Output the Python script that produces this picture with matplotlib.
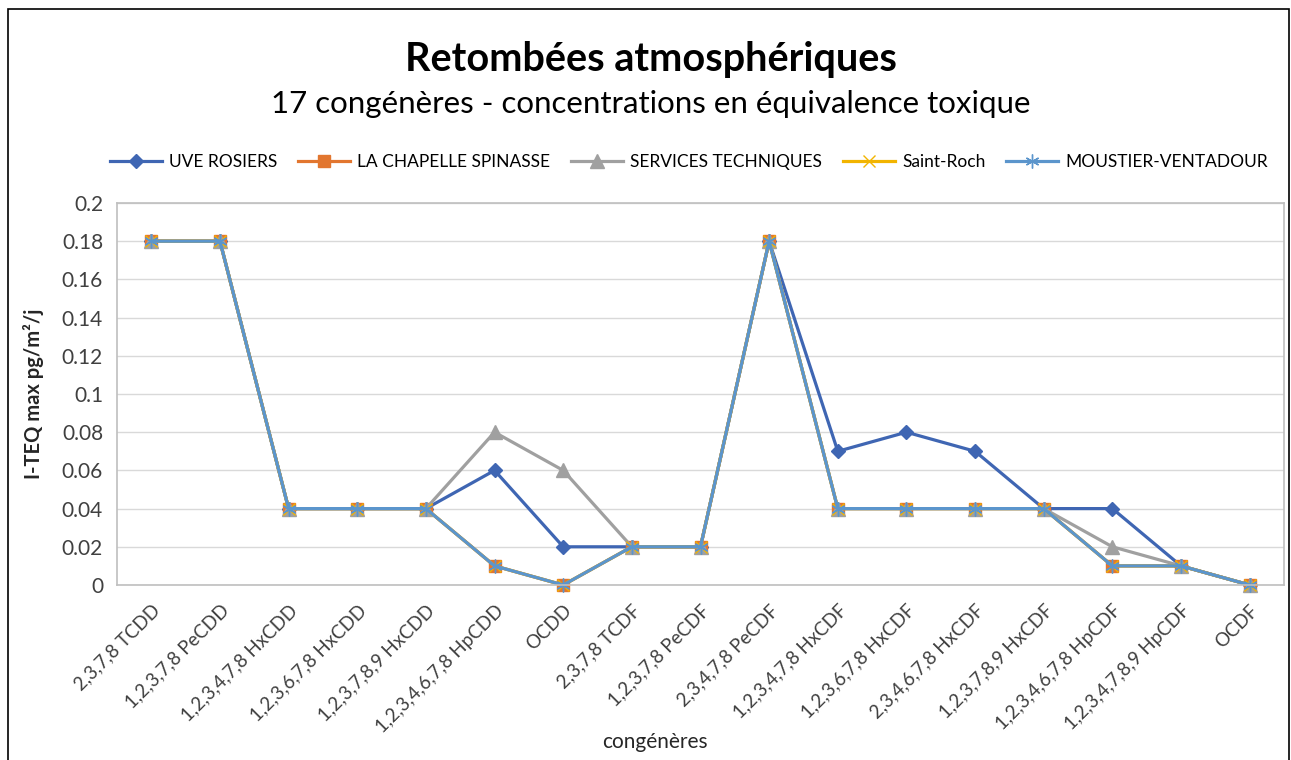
import matplotlib
matplotlib.use("Agg")
import matplotlib.pyplot as plt
from matplotlib.patches import Rectangle
from matplotlib.ticker import FuncFormatter

plt.rcParams['font.family'] = ['Lato', 'DejaVu Sans']

congeneres = ["2,3,7,8 TCDD", "1,2,3,7,8 PeCDD", "1,2,3,4,7,8 HxCDD", "1,2,3,6,7,8 HxCDD",
              "1,2,3,7,8,9 HxCDD", "1,2,3,4,6,7,8 HpCDD", "OCDD", "2,3,7,8 TCDF",
              "1,2,3,7,8 PeCDF", "2,3,4,7,8 PeCDF", "1,2,3,4,7,8 HxCDF", "1,2,3,6,7,8 HxCDF",
              "2,3,4,6,7,8 HxCDF", "1,2,3,7,8,9 HxCDF", "1,2,3,4,6,7,8 HpCDF",
              "1,2,3,4,7,8,9 HpCDF", "OCDF"]

uve_rosiers = [0.18, 0.18, 0.04, 0.04, 0.04, 0.06, 0.02, 0.02, 0.02, 0.18,
               0.07, 0.08, 0.07, 0.04, 0.04, 0.01, 0.0]
la_chapelle = [0.18, 0.18, 0.04, 0.04, 0.04, 0.01, 0.0, 0.02, 0.02, 0.18,
               0.04, 0.04, 0.04, 0.04, 0.01, 0.01, 0.0]
services_tech = [0.18, 0.18, 0.04, 0.04, 0.04, 0.08, 0.06, 0.02, 0.02, 0.18,
                 0.04, 0.04, 0.04, 0.04, 0.02, 0.01, 0.0]
saint_roch = [0.18, 0.18, 0.04, 0.04, 0.04, 0.01, 0.0, 0.02, 0.02, 0.18,
              0.04, 0.04, 0.04, 0.04, 0.01, 0.01, 0.0]
moustier = [0.18, 0.18, 0.04, 0.04, 0.04, 0.01, 0.0, 0.02, 0.02, 0.18,
            0.04, 0.04, 0.04, 0.04, 0.01, 0.01, 0.0]

series = [
    ("UVE ROSIERS", uve_rosiers, "#3F66B3", "D", 7.5),
    ("LA CHAPELLE SPINASSE", la_chapelle, "#E2762F", "s", 9),
    ("SERVICES TECHNIQUES", services_tech, "#A0A0A0", "^", 10),
    ("Saint-Roch", saint_roch, "#F2B400", "x", 8),
    ("MOUSTIER-VENTADOUR", moustier, "#5B95CC", (6, 2, 0), 10),
]

W, H = 1291, 760
fig = plt.figure(figsize=(W / 100, H / 100), dpi=100)
ax = fig.add_axes([117 / W, 1 - 585 / H, (1284 - 117) / W, (585 - 203) / H])

x = range(len(congeneres))
for name, vals, col, mk, ms in series:
    ax.plot(x, vals, color=col, lw=2.3, marker=mk, markersize=ms,
            markeredgecolor=col, markerfacecolor=col, label=name, clip_on=False)

ax.set_xlim(-0.5, len(congeneres) - 0.5)
ax.set_ylim(0, 0.2)
ax.set_yticks([i * 0.02 for i in range(11)])
ax.yaxis.set_major_formatter(FuncFormatter(lambda v, p: f"{v:.2f}".rstrip('0').rstrip('.') if v else "0"))
ax.set_xticks(list(x))
ax.set_xticklabels(congeneres, rotation=45, ha='right', rotation_mode='anchor')
ax.tick_params(axis='x', length=0, labelsize=13.5, colors='#404040', pad=12)
ax.tick_params(axis='y', length=0, labelsize=15, colors='#404040', pad=10)
ax.grid(axis='y', color='#D9D9D9', lw=1)
ax.set_axisbelow(True)
for s in ax.spines.values():
    s.set_color('#BFBFBF')
    s.set_linewidth(1.2)

ax.set_ylabel("I-TEQ max pg/m²/j", fontsize=14.5, fontweight='bold', color='#262626')
ax.yaxis.set_label_coords((44 - 117) / (1284 - 117), 0.5)
fig.text(655 / W, 1 - 742 / H, "congénères", ha='center', va='center', fontsize=15, color='#262626')

fig.text(651 / W, 1 - 59 / H, "Retombées atmosphériques", ha='center', va='center',
         fontsize=28.5, fontweight='bold', color='black')
fig.text(651 / W, 1 - 104 / H, "17 congénères - concentrations en équivalence toxique",
         ha='center', va='center', fontsize=22.5, color='black')

fig.legend(loc='center', bbox_to_anchor=(689 / W, 1 - 162 / H), ncol=5, frameon=False,
           fontsize=12.5, handlelength=3.0, columnspacing=1.2, handletextpad=0.4)

fig.patches.append(Rectangle((8 / W, -0.05), (1289 - 8) / W, 1 - 9 / H + 0.05,
                             transform=fig.transFigure, fill=False, edgecolor='black', lw=1.2))

fig.savefig("out.png", dpi=100)
